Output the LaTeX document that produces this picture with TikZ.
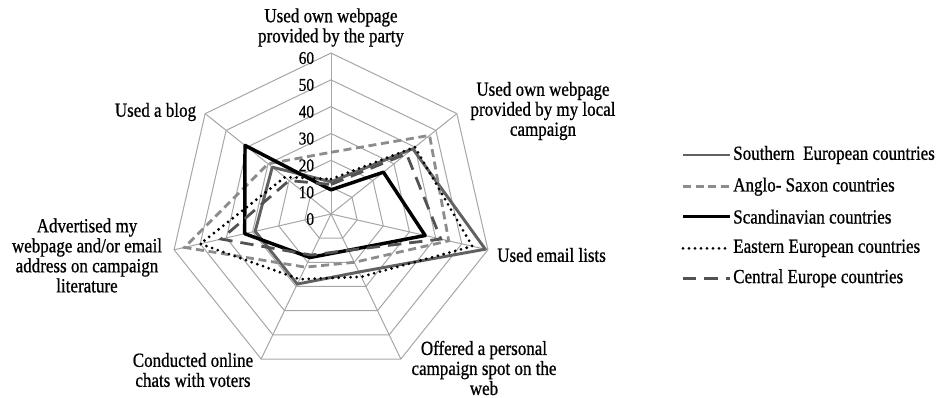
\documentclass[tikz,border=0pt]{standalone}
\usepackage{fontspec}
\setmainfont[FakeStretch=0.85, FakeBold=0.8]{Liberation Serif}
\usepackage{xcolor}
\usepackage{tikz}
\usetikzlibrary{positioning}

\begin{document}
\begin{tikzpicture}[
  x=0.75pt, y=0.75pt,
  grid/.style={draw=black!35, line width=0.75pt},
  lbl/.style={align=center, inner sep=0pt, font=\fontsize{15pt}{15pt}\selectfont},
  tick/.style={anchor=east, inner sep=0pt, font=\fontsize{13.5pt}{13.5pt}\selectfont},
  legtext/.style={anchor=west, inner sep=0pt, font=\fontsize{15pt}{15pt}\selectfont},
  southern/.style={draw=black!62, line width=2.2pt, line join=round},
  anglo/.style={draw=black!45, line width=2.1pt, dash pattern=on 6pt off 3.5pt},
  scand/.style={draw=black, line width=2.6pt, line join=round},
  eastern/.style={draw=black, line width=2.3pt, line cap=round, dash pattern=on 0pt off 4.5pt},
  central/.style={draw=black!68, line width=2.1pt, dash pattern=on 10pt off 6pt}
]
\useasboundingbox (0,0) rectangle (950,398);

\begin{scope}[shift={(248.25pt,138pt)}, x=2.012pt, y=2.012pt]
\foreach \r in {10,20,...,60}
  \draw[grid] (90:\r) \foreach \a in {1,...,6} { -- (90-\a*51.4286:\r) } -- cycle;
\foreach \a in {0,...,6}
  \draw[grid] (0,0) -- (90-\a*51.4286:60);
\foreach \v in {0,10,...,60}
  \node[tick] (t\v) at ([xshift=-12.5pt, yshift=-3.8pt]90:\v) {\v};

\draw[southern] (90:12) -- (38.571:39) -- (-12.857:59) -- (-64.286:24) -- (-115.714:29) -- (-167.143:29) -- (141.429:28) -- cycle;
\draw[anglo] (90:23) -- (38.571:47) -- (-12.857:45) -- (-64.286:20) -- (-115.714:22) -- (-167.143:56) -- (141.429:30) -- cycle;
\draw[scand] (90:9) -- (38.571:25) -- (-12.857:36) -- (-64.286:15) -- (-115.714:18) -- (-167.143:33) -- (141.429:41) -- cycle;
\draw[eastern] (90:13) -- (38.571:40) -- (-12.857:54) -- (-64.286:26) -- (-115.714:27) -- (-167.143:50) -- (141.429:22) -- cycle;
\draw[central] (90:11) -- (38.571:36) -- (-12.857:42) -- (-64.286:15) -- (-115.714:17) -- (-167.143:42) -- (141.429:20) -- cycle;
\end{scope}

\node[lbl] (party) at (331,370.5) {Used own webpage\\provided by the party};
\node[lbl] (local) at (543,287) {Used own webpage\\provided by my local\\campaign};
\node[lbl, anchor=west] (email) at (497,143) {Used email lists};
\node[lbl] (offered) at (484,30) {Offered a personal\\campaign spot on the\\web};
\node[lbl] (chats) at (193,28) {Conducted online\\chats with voters};
\node[lbl] (advert) at (87,142.5) {Advertised my\\webpage and/or email\\address on campaign\\literature};
\node[lbl] (blog) at (155.5,286) {Used a blog};

\node[legtext] (lsouth) at (733,243) {Southern\ \ European countries};
\node[legtext] (langlo) at (733,211.3) {Anglo- Saxon countries};
\node[legtext] (lscand) at (733,181.3) {Scandinavian countries};
\node[legtext] (least) at (733,149.7) {Eastern European countries};
\node[legtext] (lcentral) at (733,119.7) {Central Europe countries};

\draw[southern] ([xshift=-37.5pt]lsouth.west) -- ([xshift=-2.25pt]lsouth.west);
\draw[anglo] ([xshift=-37.5pt]langlo.west) -- ([xshift=-2.25pt]langlo.west);
\draw[scand] ([xshift=-37.5pt]lscand.west) -- ([xshift=-2.25pt]lscand.west);
\draw[eastern] ([xshift=-37.5pt]least.west) -- ([xshift=-2.25pt]least.west);
\draw[central] ([xshift=-37.5pt]lcentral.west) -- ([xshift=-2.25pt]lcentral.west);
\end{tikzpicture}
\end{document}
